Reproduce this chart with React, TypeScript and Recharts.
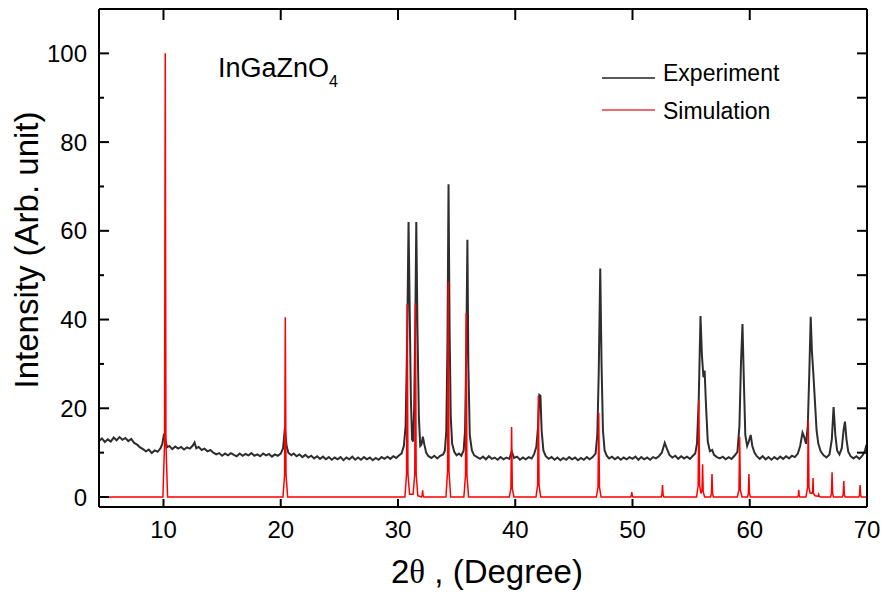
import React from 'react';
import { LineChart, Line, XAxis, YAxis } from 'recharts';

// 2θ (degree), intensity (arb. unit) — measured pattern
const EXPERIMENT: [number, number][] = [
  [4.5, 12.6], [4.75, 13.2], [5.0, 12.4], [5.25, 13.0], [5.5, 12.5], [5.75, 13.4], [6.0, 12.8], [6.25, 13.5],
  [6.5, 12.9], [6.75, 13.3], [7.0, 12.6], [7.25, 13.1], [7.5, 12.2], [7.75, 11.8], [8.0, 11.2], [8.25, 10.8],
  [8.5, 10.3], [8.75, 10.7], [9.0, 9.9], [9.25, 10.5], [9.5, 10.2], [9.75, 11.0], [9.9, 12.0], [10.05, 14.3],
  [10.15, 13.0], [10.3, 11.2], [10.5, 11.5], [10.75, 10.8], [11.0, 11.4], [11.25, 10.9], [11.5, 11.3],
  [11.75, 10.7], [12.0, 11.2], [12.25, 10.9], [12.5, 11.6], [12.65, 12.3], [12.8, 11.0], [13.0, 11.3],
  [13.25, 10.6], [13.5, 10.9], [13.75, 10.3], [14.0, 10.6], [14.25, 10.0], [14.5, 9.6], [14.75, 9.9],
  [15.0, 9.3], [15.25, 9.8], [15.5, 9.4], [15.75, 9.9], [16.0, 9.5], [16.25, 9.2], [16.5, 9.8], [16.75, 9.3],
  [17.0, 9.7], [17.25, 9.4], [17.5, 9.9], [17.75, 9.3], [18.0, 9.6], [18.25, 9.2], [18.5, 9.8], [18.75, 9.4],
  [19.0, 9.7], [19.25, 9.1], [19.5, 9.6], [19.75, 9.3], [20.0, 9.8], [20.2, 11.0], [20.35, 15.5], [20.5, 11.5],
  [20.65, 10.0], [20.9, 9.4], [21.1, 9.8], [21.35, 9.2], [21.6, 9.6], [21.85, 9.0], [22.1, 9.5], [22.35, 8.9],
  [22.6, 9.3], [22.85, 8.7], [23.1, 9.2], [23.35, 8.6], [23.6, 9.1], [23.85, 8.5], [24.1, 9.0], [24.35, 8.4],
  [24.6, 8.9], [24.85, 8.5], [25.1, 9.0], [25.35, 8.3], [25.6, 8.9], [25.85, 8.5], [26.1, 9.1], [26.35, 8.4],
  [26.6, 8.9], [26.85, 8.4], [27.1, 9.0], [27.35, 8.5], [27.6, 8.9], [27.85, 8.3], [28.1, 8.8], [28.35, 8.4],
  [28.6, 9.0], [28.85, 8.6], [29.1, 9.1], [29.35, 8.6], [29.6, 9.2], [29.85, 8.8], [30.1, 9.4], [30.3, 9.8],
  [30.5, 11.5], [30.65, 16], [30.78, 35], [30.9, 62], [31.0, 42], [31.1, 22], [31.2, 13], [31.28, 12.5],
  [31.38, 20], [31.48, 40], [31.56, 62], [31.66, 38], [31.78, 18], [31.9, 11.5], [32.0, 11.8], [32.12, 13.6],
  [32.25, 11.8], [32.4, 10.0], [32.6, 9.2], [32.85, 8.8], [33.1, 9.3], [33.35, 8.7], [33.6, 9.3], [33.85, 9.6],
  [34.0, 10.5], [34.12, 15], [34.22, 35], [34.31, 70.5], [34.4, 38], [34.5, 18], [34.62, 12], [34.8, 10.2],
  [35.0, 9.4], [35.2, 9.8], [35.4, 9.3], [35.6, 10.5], [35.72, 15], [35.82, 32], [35.92, 58], [36.0, 30],
  [36.12, 14], [36.3, 10.5], [36.5, 9.4], [36.75, 9.0], [37.0, 8.6], [37.25, 9.1], [37.5, 8.5], [37.75, 9.2],
  [38.0, 8.6], [38.25, 8.9], [38.5, 8.4], [38.75, 9.0], [39.0, 8.5], [39.25, 8.9], [39.5, 8.6], [39.7, 10.3],
  [39.9, 8.8], [40.15, 9.1], [40.4, 8.4], [40.65, 8.9], [40.9, 8.5], [41.15, 9.0], [41.4, 8.7], [41.6, 9.6],
  [41.8, 11.3], [41.95, 16], [42.05, 23], [42.15, 22.8], [42.25, 15], [42.4, 10.5], [42.6, 9.2], [42.85, 8.6],
  [43.1, 9.0], [43.35, 8.4], [43.6, 8.9], [43.85, 8.3], [44.1, 8.8], [44.35, 8.4], [44.6, 9.0], [44.85, 8.5],
  [45.1, 8.9], [45.35, 8.3], [45.6, 8.8], [45.85, 8.4], [46.1, 9.0], [46.35, 8.5], [46.6, 9.0], [46.85, 9.8],
  [47.0, 14], [47.12, 28], [47.25, 51.5], [47.36, 30], [47.48, 15], [47.62, 10.5], [47.8, 9.3], [48.0, 8.7],
  [48.25, 9.1], [48.5, 8.5], [48.75, 9.0], [49.0, 8.4], [49.25, 8.9], [49.5, 8.5], [49.75, 9.0], [50.0, 8.6],
  [50.25, 9.1], [50.5, 8.4], [50.75, 9.0], [51.0, 8.5], [51.25, 8.9], [51.5, 8.4], [51.75, 9.0], [52.0, 8.7],
  [52.25, 9.2], [52.5, 10.0], [52.75, 12.2], [52.95, 10.8], [53.15, 9.5], [53.4, 8.9], [53.65, 9.3], [53.9, 8.6],
  [54.15, 9.2], [54.4, 8.7], [54.65, 9.1], [54.9, 8.6], [55.15, 9.3], [55.35, 9.8], [55.5, 12], [55.65, 22],
  [55.8, 40.8], [55.92, 32], [56.05, 27], [56.15, 28.5], [56.28, 20], [56.42, 12.5], [56.6, 10.3], [56.8, 10.6],
  [56.95, 9.5], [57.2, 9.0], [57.45, 8.7], [57.7, 9.1], [57.95, 8.5], [58.2, 9.0], [58.45, 8.6], [58.7, 9.3],
  [58.95, 10.2], [59.12, 16], [59.25, 30], [59.38, 39], [59.5, 26], [59.62, 14], [59.78, 11.5], [59.92, 12.5],
  [60.08, 14], [60.22, 11.5], [60.4, 10.0], [60.6, 9.2], [60.85, 8.6], [61.1, 9.2], [61.35, 8.5], [61.6, 9.0],
  [61.85, 8.4], [62.1, 9.0], [62.35, 8.5], [62.6, 9.1], [62.85, 8.6], [63.1, 9.2], [63.35, 8.7], [63.6, 9.3],
  [63.85, 9.0], [64.1, 9.8], [64.3, 11.5], [64.5, 14.5], [64.65, 13.5], [64.8, 12], [64.95, 16], [65.08, 28],
  [65.2, 40.6], [65.3, 33], [65.42, 28], [65.55, 22], [65.7, 15], [65.85, 12], [66.05, 10.3], [66.3, 9.4],
  [66.55, 8.9], [66.8, 9.6], [67.0, 13], [67.15, 20.3], [67.3, 14], [67.45, 10.5], [67.65, 9.6], [67.85, 11],
  [68.0, 15], [68.12, 17], [68.25, 13], [68.4, 10.2], [68.6, 9.2], [68.85, 8.7], [69.1, 9.2], [69.35, 8.6],
  [69.6, 9.3], [69.8, 10.2], [69.9, 11.2], [70.0, 10.6],
];

// simulated pattern
const SIMULATION: [number, number][] = [
  [4.5, 0], [9.95, 0], [10.09, 12], [10.15, 100], [10.21, 12], [10.35, 0],
  [20.19, 0], [20.33, 5], [20.39, 40.5], [20.45, 5], [20.59, 0],
  [30.59, 0], [30.73, 5.2], [30.79, 43.5], [30.85, 5.2], [30.99, 0.6],
  [31.29, 0.6], [31.43, 5.2], [31.49, 43.7], [31.55, 5.2], [31.69, 0.3],
  [32.0, 0], [32.06, 0.4], [32.1, 1.5], [32.14, 0.4], [32.2, 0],
  [34.09, 0], [34.23, 5.8], [34.29, 48.6], [34.35, 5.8], [34.49, 0],
  [35.62, 0], [35.76, 5], [35.82, 41.5], [35.88, 5], [36.02, 0],
  [39.49, 0], [39.63, 1.9], [39.69, 15.8], [39.75, 1.9], [39.89, 0],
  [41.77, 0], [41.91, 2.7], [41.97, 22.8], [42.03, 2.7], [42.17, 0],
  [46.92, 0], [47.06, 2.3], [47.12, 19], [47.18, 2.3], [47.32, 0],
  [49.84, 0], [49.9, 0.3], [49.94, 1.1], [49.98, 0.3], [50.04, 0],
  [52.44, 0], [52.51, 0.5], [52.56, 2.7], [52.61, 0.5], [52.68, 0],
  [55.46, 0], [55.6, 2.6], [55.66, 21.7], [55.72, 2.6], [55.84, 0.8], [55.93, 1.5], [55.98, 7.4], [56.03, 1.2], [56.15, 0],
  [56.66, 0], [56.73, 0.8], [56.78, 5.2], [56.83, 0.8], [56.9, 0],
  [58.94, 0], [59.08, 1.6], [59.14, 13.6], [59.2, 1.6], [59.34, 0],
  [59.81, 0], [59.88, 0.8], [59.93, 5.2], [59.98, 0.8], [60.05, 0],
  [64.08, 0], [64.14, 0.3], [64.18, 1.6], [64.22, 0.3], [64.28, 0],
  [64.79, 0], [64.93, 2.1], [64.99, 17.5], [65.05, 2.1], [65.15, 0.9], [65.3, 0.8], [65.36, 1.2], [65.4, 4.3],
  [65.44, 0.8], [65.56, 0.3], [65.84, 0.2], [65.88, 0.6], [65.92, 0.2], [66.0, 0],
  [66.9, 0], [66.97, 0.8], [67.02, 5.6], [67.07, 0.8], [67.14, 0],
  [67.9, 0], [67.97, 0.5], [68.02, 3.6], [68.07, 0.5], [68.14, 0],
  [69.3, 0], [69.36, 0.4], [69.41, 2.7], [69.46, 0.4], [69.52, 0], [70.0, 0],
];

const X_TICKS = [10, 20, 30, 40, 50, 60, 70];
const X_TOP_TICKS = [10, 20, 30, 40, 50, 60];
const Y_TICKS = [0, 10, 20, 30, 40, 50, 60, 70, 80, 90, 100];
const Y_LABELED = [0, 20, 40, 60, 80, 100];
const X_DOMAIN: [number, number] = [4.5, 70];
const Y_DOMAIN: [number, number] = [-2.25, 110];

const expData = EXPERIMENT.map(([x, y]) => ({ x, y }));
const simData = SIMULATION.map(([x, y]) => ({ x, y }));

const FONT = '"Liberation Sans", Arial, sans-serif';

const LeftTick = (props: any) => {
  const { x, y, payload } = props;
  const v = payload.value;
  const major = Y_LABELED.includes(v);
  const ax = x + 12;
  return (
    <g>
      <line x1={ax} x2={ax + (major ? 10 : 5)} y1={y} y2={y} stroke="#000" strokeWidth={2} />
      {major && (
        <text x={x} y={y} dy="0.36em" textAnchor="end" fontSize={24} fontFamily={FONT} fill="#000">
          {v}
        </text>
      )}
    </g>
  );
};

const BottomTick = (props: any) => {
  const { x, y, payload } = props;
  const ay = y - 31;
  return (
    <g>
      <line x1={x} x2={x} y1={ay} y2={ay - 8} stroke="#000" strokeWidth={2} />
      <text x={x} y={y} textAnchor="middle" fontSize={24} fontFamily={FONT} fill="#000">
        {payload.value}
      </text>
    </g>
  );
};

const TopTick = (props: any) => {
  const { x, y } = props;
  return <line x1={x} x2={x} y1={y} y2={y + 11} stroke="#000" strokeWidth={2} />;
};

const RightTick = (props: any) => {
  const { x, y } = props;
  return <line x1={x - 10} x2={x} y1={y} y2={y} stroke="#000" strokeWidth={2} />;
};

export default function App() {
  return (
    <div style={{ position: 'absolute', left: 0, top: 0, width: 885, height: 600, background: '#fff' }}>
      <LineChart
        width={885}
        height={600}
        margin={{ top: 8, right: 17, bottom: 53, left: 0 }}
      >
        <XAxis
          xAxisId="b"
          dataKey="x"
          type="number"
          domain={X_DOMAIN}
          ticks={X_TICKS}
          interval={0}
          allowDataOverflow
          height={40}
          tickSize={0}
          tickMargin={31}
          tickLine={false}
          axisLine={{ stroke: '#000', strokeWidth: 2 }}
          tick={<BottomTick />}
        />
        <XAxis
          xAxisId="t"
          orientation="top"
          dataKey="x"
          type="number"
          domain={X_DOMAIN}
          ticks={X_TOP_TICKS}
          interval={0}
          allowDataOverflow
          height={1}
          tickSize={0}
          tickMargin={0}
          tickLine={false}
          axisLine={{ stroke: '#000', strokeWidth: 2 }}
          tick={<TopTick />}
        />
        <YAxis
          yAxisId="l"
          type="number"
          domain={Y_DOMAIN}
          ticks={Y_TICKS}
          interval={0}
          allowDataOverflow
          width={99}
          tickSize={0}
          tickMargin={12}
          tickLine={false}
          axisLine={{ stroke: '#000', strokeWidth: 2 }}
          tick={<LeftTick />}
        />
        <YAxis
          yAxisId="r"
          orientation="right"
          type="number"
          domain={Y_DOMAIN}
          ticks={Y_TICKS.slice(1)}
          interval={0}
          allowDataOverflow
          width={1}
          tickSize={0}
          tickMargin={0}
          tickLine={false}
          axisLine={{ stroke: '#000', strokeWidth: 2 }}
          tick={<RightTick />}
        />
        <Line
          xAxisId="b"
          yAxisId="l"
          data={expData}
          dataKey="y"
          type="linear"
          stroke="#2e2e2e"
          strokeWidth={2}
          strokeLinejoin="miter"
          dot={false}
          activeDot={false}
          isAnimationActive={false}
          name="Experiment"
        />
        <Line
          xAxisId="t"
          yAxisId="r"
          data={simData}
          dataKey="y"
          type="linear"
          stroke="none"
          dot={false}
          activeDot={false}
          isAnimationActive={false}
          legendType="none"
          name="frame"
        />
        <Line
          xAxisId="b"
          yAxisId="l"
          data={simData}
          dataKey="y"
          type="linear"
          stroke="#ff0000"
          strokeWidth={1.5}
          dot={false}
          activeDot={false}
          isAnimationActive={false}
          name="Simulation"
        />
      </LineChart>
      <svg
        width={885}
        height={600}
        style={{ position: 'absolute', left: 0, top: 0, pointerEvents: 'none' }}
      >
        <text x={218} y={77} fontSize={27} fontFamily={FONT} fill="#000">
          InGaZnO
          <tspan fontSize={16} dy={10}>4</tspan>
        </text>
        <line x1={602} x2={655} y1={78} y2={78} stroke="#222" strokeWidth={1.3} />
        <text x={663} y={81} fontSize={23} fontFamily={FONT} fill="#000">Experiment</text>
        <line x1={602} x2={655} y1={110} y2={110} stroke="#e23b3b" strokeWidth={1.5} />
        <text x={663} y={119} fontSize={23} fontFamily={FONT} fill="#000">Simulation</text>
        <text
          x={38}
          y={250}
          transform="rotate(-90 38 250)"
          textAnchor="middle"
          fontSize={33}
          fontFamily={FONT}
          fill="#000"
        >
          Intensity (Arb. unit)
        </text>
        <text x={391} y={583} fontSize={33} fontFamily={FONT} fill="#000">
          2<tspan fontFamily='"Liberation Serif", "Times New Roman", serif'>θ</tspan> , (Degree)
        </text>
      </svg>
    </div>
  );
}
